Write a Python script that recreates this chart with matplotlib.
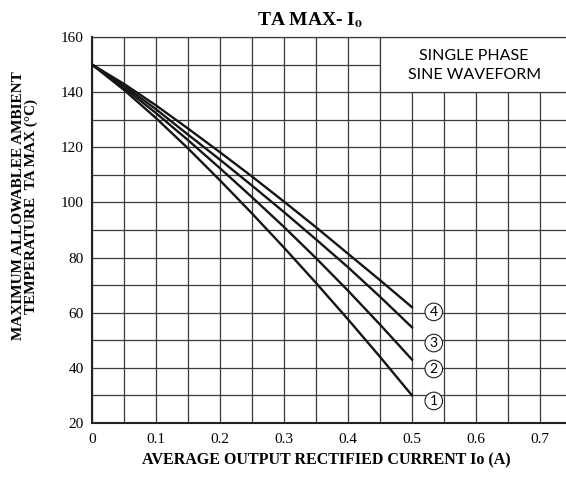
import numpy as np
import matplotlib
matplotlib.use("Agg")
import matplotlib.pyplot as plt
from matplotlib.patches import Rectangle

# values
current = [0, 0.05, 0.1, 0.15, 0.2, 0.25, 0.3, 0.35, 0.4, 0.45, 0.5]
temp_1 = [150, 140.8, 130.6, 119.6, 108, 96, 83.6, 70.8, 57.6, 44, 30]
temp_2 = [150, 141.6, 132.4, 122.6, 112.4, 101.9, 91.1, 79.8, 68, 55.7, 43]
temp_3 = [150, 142.3, 133.8, 124.6, 115.5, 106.1, 96.5, 86.6, 76.5, 65.8, 54.7]
temp_4 = [150, 143, 135.2, 126.8, 118.2, 109.4, 100.3, 91, 81.4, 71.8, 62]
curve_names = ["1", "2", "3", "4"]
label_y = [28, 39.6, 49, 60.3]

x_ticks = [0, 0.1, 0.2, 0.3, 0.4, 0.5, 0.6, 0.7]
x_ticklabels = ["0", "0.1", "0.2", "0.3", "0.4", "0.5", "0.6", "0.7"]
y_ticks = [20, 40, 60, 80, 100, 120, 140, 160]

plt.rcParams["mathtext.fontset"] = "stix"
serif = "Liberation Serif"
grid_col = "#3a3a3a"

fig = plt.figure(figsize=(5.66, 4.8), dpi=100)
ax = fig.add_axes([92 / 566, 57 / 480, 480 / 566, 386 / 480])
ax.set_xlim(0, 0.75)
ax.set_ylim(20, 160)

ax.set_xticks(x_ticks)
ax.set_xticklabels(x_ticklabels, fontfamily=serif, fontsize=11)
ax.set_xticks(np.arange(0, 0.751, 0.05), minor=True)
ax.set_yticks(y_ticks)
ax.set_yticklabels([str(v) for v in y_ticks], fontfamily=serif, fontsize=11)
ax.set_yticks(np.arange(20, 161, 10), minor=True)
ax.tick_params(which="both", length=0)
ax.tick_params(axis="x", pad=7)
ax.tick_params(axis="y", pad=6)
ax.set_axisbelow(True)
ax.grid(which="both", color=grid_col, lw=0.9)

for s in ["left", "bottom"]:
    ax.spines[s].set_linewidth(1.5)
    ax.spines[s].set_color("#222222")
ax.spines["top"].set_linewidth(0.9)
ax.spines["top"].set_color(grid_col)
ax.spines["right"].set_visible(False)

# box without grid for the waveform note
ax.add_patch(Rectangle((0.45, 140), 0.4, 20, fc="white", ec=grid_col, lw=0.9, zorder=1))
ax.text(0.597, 149.7, "SINGLE PHASE\nSINE WAVEFORM", ha="center", va="center",
        fontfamily="Lato", fontsize=11.5, linespacing=1.4, zorder=3)

for temps in [temp_1, temp_2, temp_3, temp_4]:
    ax.plot(current, temps, color="#151515", lw=1.7, zorder=4)

for name, yy in zip(curve_names, label_y):
    ax.text(0.534, yy, name, ha="center", va="center", fontfamily="Lato", fontsize=10,
            zorder=5, bbox=dict(boxstyle="circle,pad=0.2", fc="white", ec="#222222", lw=0.8))

fig.text(310 / 566, 1 - 20 / 480, r"TA MAX- I$_{\mathbf{o}}$", ha="center", va="center",
         fontfamily=serif, fontweight="bold", fontsize=14)
fig.text(326 / 566, 1 - 460 / 480, "AVERAGE OUTPUT RECTIFIED CURRENT Io (A)", ha="center",
         va="center", fontfamily=serif, fontweight="bold", fontsize=11.5)
fig.text(25 / 566, 1 - 206 / 480, "MAXIMUM ALLOWABLEE AMBIENT\nTEMPERATURE  TA MAX (°C)",
         ha="center", va="center", rotation=90, multialignment="center",
         fontfamily=serif, fontweight="bold", fontsize=11, linespacing=1.0)

fig.savefig("out.png", dpi=100)
